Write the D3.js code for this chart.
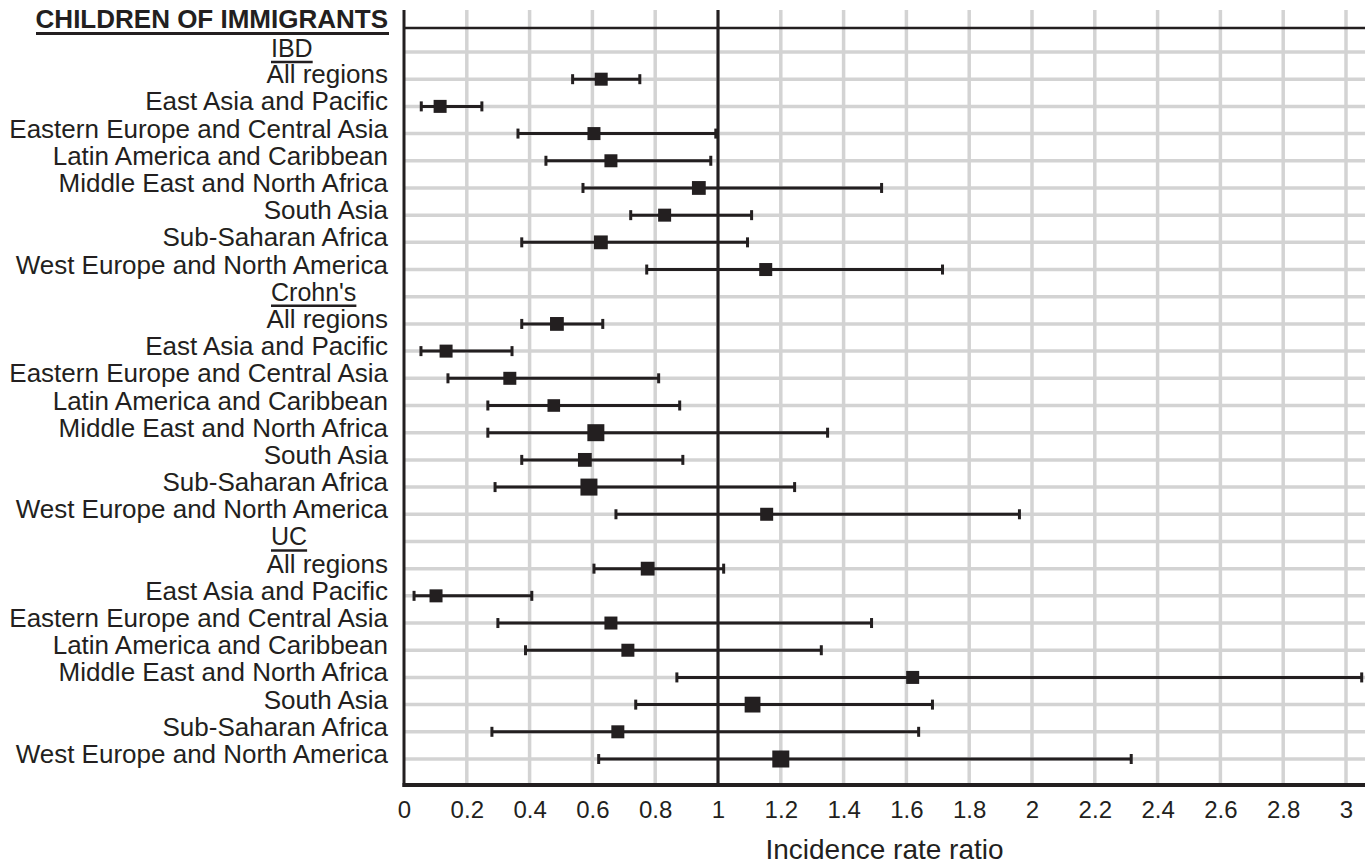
<!DOCTYPE html>
<html>
<head>
<meta charset="utf-8">
<script src="https://cdn.jsdelivr.net/npm/d3@7"></script>
<style>
body { margin: 0; background: #fff; }
text { font-family: "Liberation Sans", Arial, Helvetica, sans-serif; fill: #231f20; }
</style>
</head>
<body>
<div id="chart"></div>
<script>
// Forest plot - children of immigrants

//data
var header = "CHILDREN OF IMMIGRANTS";
var groups = ["IBD", "Crohn's", "UC"];
var regions = ["All regions", "East Asia and Pacific", "Eastern Europe and Central Asia",
	"Latin America and Caribbean", "Middle East and North Africa", "South Asia",
	"Sub-Saharan Africa", "West Europe and North America"];

// incidence rate ratio, lower and upper CI, per group (same order as regions)
var irrIBD = [0.628, 0.115, 0.605, 0.659, 0.939, 0.830, 0.627, 1.152];
var lowIBD = [0.537, 0.055, 0.363, 0.452, 0.570, 0.722, 0.375, 0.773];
var highIBD = [0.751, 0.248, 0.993, 0.977, 1.521, 1.107, 1.094, 1.715];

var irrCD = [0.487, 0.134, 0.337, 0.477, 0.611, 0.576, 0.589, 1.155];
var lowCD = [0.375, 0.054, 0.140, 0.267, 0.267, 0.375, 0.290, 0.675];
var highCD = [0.633, 0.344, 0.811, 0.878, 1.349, 0.888, 1.244, 1.960];

var irrUC = [0.776, 0.102, 0.659, 0.713, 1.620, 1.110, 0.681, 1.200];
var lowUC = [0.605, 0.032, 0.299, 0.387, 0.869, 0.738, 0.280, 0.620];
var highUC = [1.018, 0.407, 1.489, 1.329, 3.050, 1.683, 1.639, 2.316];

// relative study weight (marker size)
var weightIBD = [1.0, 1.0, 1.0, 1.0, 1.2, 1.0, 1.2, 1.0];
var weightCD = [1.2, 1.0, 1.0, 0.9, 2.0, 1.2, 2.0, 1.0];
var weightUC = [1.2, 1.0, 1.0, 1.0, 1.0, 1.7, 1.0, 2.0];

var xTicks = [0, 0.2, 0.4, 0.6, 0.8, 1, 1.2, 1.4, 1.6, 1.8, 2, 2.2, 2.4, 2.6, 2.8, 3];
var xTitle = "Incidence rate ratio";

var groupData = [
	{irr: irrIBD, low: lowIBD, high: highIBD, weight: weightIBD},
	{irr: irrCD, low: lowCD, high: highCD, weight: weightCD},
	{irr: irrUC, low: lowUC, high: highUC, weight: weightUC}
];

// flatten into rows: group heading followed by its regions
var rows = [];
groups.forEach(function(g, gi) {
	rows.push({type: "group", label: g});
	regions.forEach(function(r, ri) {
		var gd = groupData[gi];
		rows.push({type: "item", label: r, irr: gd.irr[ri], low: gd.low[ri], high: gd.high[ri], weight: gd.weight[ri]});
	});
});

var W = 1365, H = 864;
var plotLeft = 404, plotRight = 1365, plotTop = 10, plotBottom = 785;
var ink = "#231f20", grid = "#d3d3d3";

//scales
var x = d3.scaleLinear().domain([0, 1]).range([plotLeft, 718]);
var y = d3.scaleLinear().domain([0, rows.length - 1]).range([52, 759]);
var size = d3.scaleLinear().domain([1, 2]).range([13, 17]);

var svg = d3.select("#chart").append("svg")
	.attr("width", W)
	.attr("height", H);

// vertical grid
svg.append("g").selectAll("line")
	.data(xTicks.filter(function(d) { return d > 0; }))
	.enter().append("line")
	.attr("x1", function(d) { return x(d); })
	.attr("x2", function(d) { return x(d); })
	.attr("y1", plotTop)
	.attr("y2", plotBottom)
	.attr("stroke", grid)
	.attr("stroke-width", 3.5);

// horizontal grid (one per row)
svg.append("g").selectAll("line")
	.data(rows)
	.enter().append("line")
	.attr("x1", plotLeft)
	.attr("x2", plotRight)
	.attr("y1", function(d, i) { return y(i); })
	.attr("y2", function(d, i) { return y(i); })
	.attr("stroke", grid)
	.attr("stroke-width", 3.5);

// reference line at 1
svg.append("line")
	.attr("x1", x(1)).attr("x2", x(1))
	.attr("y1", plotTop).attr("y2", plotBottom)
	.attr("stroke", ink).attr("stroke-width", 3);

// frame: left axis, top line, bottom axis
svg.append("line")
	.attr("x1", plotLeft).attr("x2", plotLeft)
	.attr("y1", plotTop).attr("y2", plotBottom + 2)
	.attr("stroke", ink).attr("stroke-width", 3);
svg.append("line")
	.attr("x1", plotLeft).attr("x2", plotRight)
	.attr("y1", 28).attr("y2", 28)
	.attr("stroke", ink).attr("stroke-width", 2.5);

var xAxis = d3.axisBottom(x)
	.tickValues(xTicks)
	.tickSize(0)
	.tickPadding(16)
	.tickFormat(function(d) { return d3.format("~g")(d); });

var axisG = svg.append("g")
	.attr("transform", "translate(0," + plotBottom + ")")
	.call(xAxis);
axisG.select(".domain")
	.attr("d", "M" + (plotLeft - 1.5) + ",0H" + plotRight)
	.attr("stroke", ink)
	.attr("stroke-width", 4);
axisG.selectAll("text")
	.attr("font-size", "24px")
	.attr("font-family", "'Liberation Sans', Arial, sans-serif")
	.attr("fill", "#3a3536");

svg.append("text")
	.attr("x", (plotLeft + plotRight) / 2)
	.attr("y", 859)
	.attr("text-anchor", "middle")
	.attr("font-size", "28px")
	.text(xTitle);

// header label with underline
svg.append("text")
	.attr("x", 388)
	.attr("y", 28)
	.attr("text-anchor", "end")
	.attr("font-size", "26px")
	.attr("font-weight", "bold")
	.text(header);
svg.append("line")
	.attr("x1", 36).attr("x2", 389)
	.attr("y1", 33.5).attr("y2", 33.5)
	.attr("stroke", ink).attr("stroke-width", 3);

// row labels
var labels = svg.append("g").selectAll("g")
	.data(rows)
	.enter().append("g")
	.attr("transform", function(d, i) { return "translate(0," + (y(i) + (d.type === "group" && i === 0 ? 5 : 4)) + ")"; });

labels.append("text")
	.attr("x", function(d) { return d.type === "group" ? 271 : 388; })
	.attr("text-anchor", function(d) { return d.type === "group" ? "start" : "end"; })
	.attr("font-size", function(d) { return d.type === "group" ? "25px" : "26px"; })
	.text(function(d) { return d.label; });

// underline group headings
labels.filter(function(d) { return d.type === "group"; })
	.each(function() {
		var g = d3.select(this);
		var w = g.select("text").node().getComputedTextLength();
		g.append("line")
			.attr("x1", 271).attr("x2", 271 + w)
			.attr("y1", 5).attr("y2", 5)
			.attr("stroke", ink).attr("stroke-width", 2.5);
	});

// confidence intervals and markers
var items = rows.map(function(d, i) { d.index = i; return d; })
	.filter(function(d) { return d.type === "item"; });

var ci = svg.append("g").selectAll("g")
	.data(items)
	.enter().append("g")
	.attr("transform", function(d) { return "translate(0," + y(d.index) + ")"; });

ci.append("line")
	.attr("x1", function(d) { return x(d.low); })
	.attr("x2", function(d) { return x(d.high); })
	.attr("stroke", ink)
	.attr("stroke-width", 3);

ci.selectAll(".cap")
	.data(function(d) { return [d.low, d.high]; })
	.enter().append("rect")
	.attr("class", "cap")
	.attr("x", function(v) { return x(v) - 1.5; })
	.attr("y", -5)
	.attr("width", 3)
	.attr("height", 10)
	.attr("fill", ink);

ci.append("rect")
	.attr("x", function(d) { return x(d.irr) - size(d.weight) / 2; })
	.attr("y", function(d) { return -size(d.weight) / 2; })
	.attr("width", function(d) { return size(d.weight); })
	.attr("height", function(d) { return size(d.weight); })
	.attr("fill", ink);
</script>
</body>
</html>
